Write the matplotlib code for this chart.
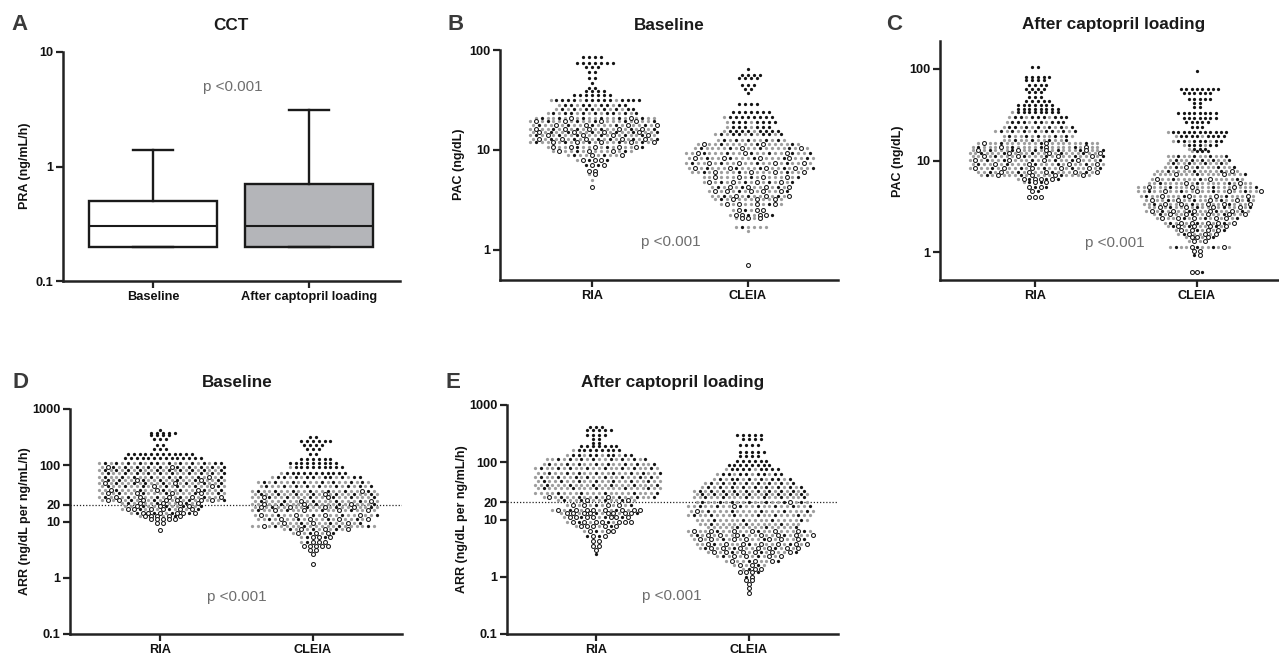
import matplotlib
matplotlib.use("Agg")
import matplotlib.pyplot as plt
import matplotlib.ticker as ticker

plt.rcParams.update({
    "font.family": ["Liberation Sans", "DejaVu Sans"],
    "font.size": 9,
})

W, H = 1279, 655
AXIS_COLOR = "#222222"
GRAY_DOT = "#9e9e9e"
P_COLOR = "#6e6e6e"

# ---- panel A: PRA box plots (CCT) ----
A_GROUPS = ["Baseline", "After captopril loading"]
A_Q1 = [0.2, 0.2]
A_MED = [0.3, 0.3]
A_Q3 = [0.5, 0.7]
A_LOW = [0.2, 0.2]
A_HIGH = [1.4, 3.1]
A_FILL = ["white", "#b4b5b9"]

GROUPS = ["RIA", "CLEIA"]

# swarm rows: (value, n black, n gray, n open)
B_RIA = [(85, 4, 0, 0), (74, 7, 0, 0), (67, 3, 0, 0), (60, 2, 0, 0), (53, 2, 0, 0),
         (47, 1, 0, 0), (42, 2, 0, 0), (38.6, 4, 0, 0), (35.8, 7, 0, 0), (31.8, 13, 3, 0),
         (28.4, 8, 4, 0), (25.5, 8, 6, 0), (23.4, 9, 7, 0), (20.9, 6, 13, 2), (19.7, 5, 13, 4),
         (17.7, 5, 13, 4), (16.3, 5, 12, 5), (15.1, 6, 12, 4), (14.0, 6, 12, 4), (13.0, 6, 11, 5),
         (12.0, 5, 12, 5), (10.6, 3, 9, 5), (9.7, 2, 9, 3), (8.9, 2, 6, 2), (8.0, 2, 1, 3),
         (7.1, 2, 0, 2), (6.2, 0, 0, 2), (5.7, 0, 1, 1), (5.0, 0, 1, 0), (4.3, 0, 0, 1)]
B_CLEIA = [(64, 1, 0, 0), (56, 4, 0, 0), (52, 4, 0, 0), (44.7, 3, 0, 0), (40.5, 2, 0, 0),
           (36.9, 1, 0, 0), (28.8, 4, 0, 0), (23.7, 7, 0, 0), (21.2, 8, 1, 0), (19.2, 7, 2, 0),
           (17.0, 6, 2, 0), (15.5, 8, 2, 0), (14.5, 7, 5, 0), (12.7, 5, 7, 0), (11.5, 3, 13, 2),
           (10.4, 4, 14, 2), (9.3, 6, 13, 3), (8.3, 5, 13, 4), (7.4, 4, 14, 4), (6.6, 5, 13, 4),
           (5.97, 3, 13, 4), (5.4, 2, 11, 4), (4.8, 4, 8, 4), (4.3, 3, 7, 4), (3.9, 2, 7, 5),
           (3.5, 3, 8, 3), (3.2, 1, 8, 3), (2.9, 1, 6, 4), (2.5, 1, 2, 3), (2.24, 2, 2, 4),
           (2.07, 0, 2, 3), (1.7, 1, 5, 0), (1.55, 0, 1, 0), (0.71, 0, 0, 1)]
C_RIA = [(103, 2, 0, 0), (80.5, 5, 0, 0), (75, 4, 0, 0), (67, 4, 0, 0), (60, 4, 0, 0),
         (55, 3, 0, 0), (49.6, 3, 0, 0), (44, 5, 0, 0), (40.6, 7, 0, 0), (36.5, 8, 0, 0),
         (33.5, 8, 1, 0), (29.6, 8, 3, 0), (26.2, 8, 3, 0), (23.4, 7, 6, 0), (20.8, 8, 7, 0),
         (18.7, 5, 8, 0), (16.8, 4, 8, 0), (15.4, 3, 17, 2), (14.2, 4, 16, 3), (13.1, 6, 14, 4),
         (12.0, 5, 16, 3), (11.1, 5, 15, 4), (10.2, 6, 14, 4), (9.2, 5, 15, 4), (8.3, 5, 14, 5),
         (7.5, 4, 13, 5), (6.9, 3, 13, 4), (6.3, 3, 1, 4), (5.8, 2, 1, 2), (5.2, 2, 0, 2),
         (4.7, 1, 0, 1), (4.0, 0, 0, 3)]
C_CLEIA = [(95, 1, 0, 0), (60, 8, 0, 0), (54, 6, 0, 0), (47, 5, 0, 0), (42, 2, 0, 0),
           (38, 2, 0, 0), (33, 8, 0, 0), (29, 7, 0, 0), (26, 5, 0, 0), (23, 3, 0, 0),
           (20.3, 11, 1, 0), (18.3, 8, 2, 0), (16.5, 7, 3, 0), (14.9, 5, 2, 0), (13.4, 3, 1, 0),
           (12.7, 3, 1, 0), (11.3, 4, 8, 0), (10.2, 5, 7, 0), (9.3, 4, 8, 0), (8.4, 4, 9, 1),
           (7.7, 3, 12, 1), (7.1, 2, 14, 2), (6.3, 3, 13, 2), (5.7, 3, 15, 2), (5.2, 3, 17, 3),
           (4.6, 4, 16, 4), (4.15, 3, 15, 4), (3.73, 4, 13, 4), (3.4, 3, 13, 5), (3.1, 4, 12, 4),
           (2.85, 4, 11, 5), (2.6, 3, 10, 5), (2.35, 3, 8, 5), (2.1, 3, 6, 5), (1.93, 3, 5, 4),
           (1.76, 2, 4, 4), (1.6, 1, 4, 3), (1.47, 1, 2, 3), (1.32, 0, 2, 2), (1.15, 3, 7, 2),
           (1.03, 0, 0, 2), (0.93, 1, 0, 1), (0.61, 1, 0, 2)]
D_RIA = [(424, 1, 0, 0), (380, 5, 0, 0), (345, 4, 0, 0), (289, 3, 0, 0), (229, 2, 0, 0),
         (192, 3, 0, 0), (159, 12, 0, 0), (133, 14, 0, 0), (111, 12, 10, 0), (94, 10, 10, 2),
         (83, 10, 12, 0), (72, 10, 12, 0), (63, 8, 13, 1), (55, 7, 13, 2), (48, 7, 13, 2),
         (42, 7, 13, 2), (36.5, 6, 13, 3), (31.8, 5, 13, 4), (27.7, 5, 12, 5), (24.2, 4, 11, 7),
         (21, 3, 7, 4), (18.8, 4, 7, 3), (16.6, 3, 5, 6), (14.4, 4, 2, 6), (12.6, 1, 2, 5),
         (11, 0, 0, 5), (9.3, 0, 0, 2), (7.2, 0, 0, 1)]
D_CLEIA = [(322, 2, 0, 0), (273, 6, 0, 0), (229, 4, 0, 0), (192, 3, 0, 0), (159, 2, 0, 0),
           (128, 6, 0, 0), (111, 9, 0, 0), (92, 9, 1, 0), (74, 11, 1, 0), (61, 10, 6, 0),
           (51, 8, 12, 0), (42, 9, 11, 0), (35, 7, 14, 1), (31, 7, 14, 1), (27, 6, 14, 2),
           (23.5, 5, 15, 2), (20.6, 4, 15, 3), (18, 4, 14, 4), (15.7, 4, 14, 4), (13.2, 4, 14, 4),
           (11, 4, 12, 4), (9.3, 3, 10, 3), (8.4, 4, 17, 1), (7.3, 3, 6, 3), (6.2, 2, 3, 3),
           (5.25, 2, 1, 3), (4.4, 1, 1, 3), (3.7, 0, 0, 5), (3.1, 0, 0, 2), (2.6, 0, 0, 1),
           (1.77, 0, 0, 1)]
E_RIA = [(417, 3, 0, 0), (366, 5, 0, 0), (299, 4, 0, 0), (251, 2, 0, 0), (219, 2, 0, 0),
         (192, 7, 0, 0), (164, 8, 1, 0), (134, 8, 4, 0), (112, 8, 10, 0), (93, 8, 12, 0),
         (78, 8, 14, 0), (66, 8, 14, 0), (56, 8, 14, 0), (47, 7, 15, 0), (40, 6, 16, 0),
         (35, 5, 17, 0), (29, 5, 17, 0), (25, 6, 12, 2), (21.9, 4, 8, 2), (17.9, 2, 6, 4),
         (14.7, 2, 6, 8), (12.9, 2, 4, 8), (10.9, 3, 2, 7), (9.1, 2, 3, 7), (7.7, 1, 2, 5),
         (6.3, 1, 2, 3), (5.2, 2, 0, 2), (4.2, 0, 0, 2), (3.4, 0, 0, 2), (2.9, 0, 0, 1),
         (2.5, 1, 0, 0)]
E_CLEIA = [(299, 5, 0, 0), (251, 4, 0, 0), (200, 4, 0, 0), (153, 5, 0, 0), (128, 4, 0, 0),
           (106, 6, 0, 0), (89, 8, 0, 0), (75, 8, 2, 0), (62, 8, 4, 0), (50, 8, 6, 0),
           (43, 8, 8, 0), (37, 9, 9, 0), (32, 10, 10, 0), (28, 9, 11, 0), (24.5, 6, 14, 0),
           (20.5, 7, 12, 1), (17, 7, 14, 1), (14.2, 5, 16, 1), (12, 6, 16, 0), (10, 4, 16, 0),
           (8.5, 3, 15, 0), (7.5, 3, 13, 0), (6.3, 3, 13, 6), (5.3, 3, 12, 7), (4.5, 3, 10, 7),
           (3.8, 3, 10, 7), (3.2, 3, 8, 7), (2.72, 3, 7, 6), (2.27, 2, 6, 4), (1.9, 2, 5, 3),
           (1.6, 1, 3, 2), (1.36, 1, 1, 2), (1.2, 1, 0, 3), (1.0, 1, 0, 1), (0.87, 0, 0, 2),
           (0.75, 0, 0, 1), (0.63, 0, 0, 1), (0.53, 0, 0, 1)]


def px_axes(fig, x0, x1, ytop, ybot):
    return fig.add_axes([x0 / W, 1 - ybot / H, (x1 - x0) / W, (ybot - ytop) / H])


def fig_text(fig, x, y, s, **kw):
    fig.text(x / W, 1 - y / H, s, ha="center", va="center", **kw)


def style_axes(ax, yticks, ylabels, xlabels):
    for side in ("top", "right"):
        ax.spines[side].set_visible(False)
    for side in ("left", "bottom"):
        ax.spines[side].set_linewidth(1.8)
        ax.spines[side].set_color(AXIS_COLOR)
    ax.set_yscale("log")
    ax.yaxis.set_major_locator(ticker.FixedLocator(yticks))
    ax.yaxis.set_major_formatter(ticker.FixedFormatter(ylabels))
    ax.yaxis.set_minor_locator(ticker.NullLocator())
    ax.tick_params(axis="both", length=5, width=1.6, color=AXIS_COLOR, pad=2)
    ax.set_xticks([1, 2])
    ax.set_xticklabels(xlabels)
    for lab in ax.get_xticklabels() + ax.get_yticklabels():
        lab.set_fontweight("bold")
        lab.set_fontsize(9.2)
        lab.set_color("#111111")


def row_kinds(nb, ng, no, phase):
    # spread the three dot kinds along a row; phase varies per row
    items = []
    for kind, c, ph in (("g", ng, 0.0), ("k", nb, phase), ("o", no, (phase + 0.5) % 1)):
        for j in range(c):
            items.append((((j + ph) / c) % 1.0, kind))
    items.sort()
    return [k for _, k in items]


def draw_swarm(ax, xpos, rows, dx=0.038):
    pts = {"k": ([], []), "g": ([], []), "o": ([], [])}
    for r, (val, nb, ng, no) in enumerate(rows):
        kinds = row_kinds(nb, ng, no, (r * 0.618) % 1.0)
        n = len(kinds)
        shift = dx / 2 if (r % 2 and n > 3) else 0.0
        for i, k in enumerate(kinds):
            pts[k][0].append(xpos + (i - (n - 1) / 2) * dx + shift)
            pts[k][1].append(val)
    ax.scatter(*pts["g"], s=5.5, color=GRAY_DOT, linewidths=0, zorder=3)
    ax.scatter(*pts["k"], s=5.5, color="#151515", linewidths=0, zorder=4)
    ax.scatter(*pts["o"], s=8, facecolor="white", edgecolor="#151515",
               linewidths=0.75, zorder=5)


fig = plt.figure(figsize=(W / 100, H / 100), dpi=100)

# ---- A ----
ax = px_axes(fig, 63, 400, 52, 281)
stats = []
for i, g in enumerate(A_GROUPS):
    stats.append({"label": g, "med": A_MED[i], "q1": A_Q1[i], "q3": A_Q3[i],
                  "whislo": A_LOW[i], "whishi": A_HIGH[i], "fliers": []})
bp = ax.bxp(stats, positions=[1, 2], widths=0.82, capwidths=0.26, patch_artist=True,
            showfliers=False,
            boxprops=dict(linewidth=1.7, edgecolor="#1a1a1a"),
            medianprops=dict(linewidth=1.5, color="#1a1a1a"),
            whiskerprops=dict(linewidth=1.7, color="#1a1a1a"),
            capprops=dict(linewidth=1.7, color="#1a1a1a"))
for patch, fc in zip(bp["boxes"], A_FILL):
    patch.set_facecolor(fc)
ax.set_xlim(1 - 90 / 156, 2 + 91 / 156)
ax.set_ylim(0.1, 10)
style_axes(ax, [0.1, 1, 10], ["0.1", "1", "10"], A_GROUPS)

# ---- B ----
ax = px_axes(fig, 500, 838, 50, 280)
draw_swarm(ax, 1, B_RIA)
draw_swarm(ax, 2, B_CLEIA)
ax.set_xlim(1 - 92 / 156, 2 + 90 / 156)
ax.set_ylim(0.5, 100)
style_axes(ax, [1, 10, 100], ["1", "10", "100"], GROUPS)

# ---- C ----
ax = px_axes(fig, 940, 1282, 41, 280)
draw_swarm(ax, 1, C_RIA, dx=0.035)
draw_swarm(ax, 2, C_CLEIA, dx=0.033)
ax.set_xlim(1 - 95 / 162, 2 + 85 / 162)
ax.set_ylim(0.5, 200)
style_axes(ax, [1, 10, 100], ["1", "10", "100"], GROUPS)

# ---- D ----
ARR_TICKS = [0.1, 1, 10, 20, 100, 1000]
ARR_LABELS = ["0.1", "1", "10", "20", "100", "1000"]
ax = px_axes(fig, 70, 402, 409, 634)
draw_swarm(ax, 1, D_RIA)
draw_swarm(ax, 2, D_CLEIA)
ax.axhline(20, color="#222222", linestyle=(0, (1, 1.5)), linewidth=0.9, zorder=2)
ax.set_xlim(1 - 90 / 153, 2 + 89 / 153)
ax.set_ylim(0.1, 1000)
style_axes(ax, ARR_TICKS, ARR_LABELS, GROUPS)

# ---- E ----
ax = px_axes(fig, 507, 838, 405, 634)
draw_swarm(ax, 1, E_RIA)
draw_swarm(ax, 2, E_CLEIA)
ax.axhline(20, color="#222222", linestyle=(0, (1, 1.5)), linewidth=0.9, zorder=2)
ax.set_xlim(1 - 89 / 153, 2 + 89 / 153)
ax.set_ylim(0.1, 1000)
style_axes(ax, ARR_TICKS, ARR_LABELS, GROUPS)

# y-axis labels
YLABELS = [("PRA (ng/mL/h)", 25, 166), ("PAC (ng/dL)", 459, 164), ("PAC (ng/dL)", 898, 161),
           ("ARR (ng/dL per ng/mL/h)", 25, 521), ("ARR (ng/dL per ng/mL/h)", 462, 519)]
for s, x, y in YLABELS:
    fig_text(fig, x, y, s, rotation=90, fontsize=9, fontweight="bold", color="#111111")

# titles, panel letters, p-values
TITLES = [("CCT", 231, 26), ("Baseline", 669, 25), ("After captopril loading", 1114, 25),
          ("Baseline", 237, 383), ("After captopril loading", 673, 383)]
for s, x, y in TITLES:
    fig_text(fig, x, y, s, fontsize=12.3, fontweight="bold", color="#1a1a1a")

LETTERS = [("A", 20, 25), ("B", 456, 25), ("C", 894, 25), ("D", 20, 383), ("E", 453, 383)]
for s, x, y in LETTERS:
    fig_text(fig, x, y, s, fontsize=16, fontweight="bold", color="#3a3a3a")

P_POS = [(233, 87), (671, 242), (1115, 243), (237, 597), (672, 596)]
for x, y in P_POS:
    fig_text(fig, x, y, "p <0.001", fontsize=11, color=P_COLOR)

fig.savefig("out.png", dpi=100)
